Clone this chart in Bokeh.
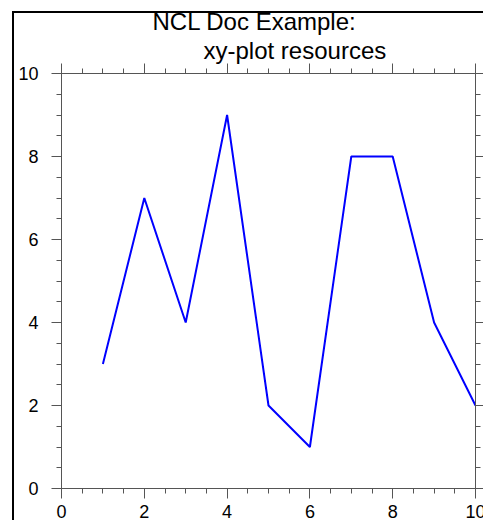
from bokeh.plotting import figure
from bokeh.models import (Range1d, LinearAxis, SingleIntervalTicker, Title,
                          CustomJSTickFormatter, InlineStyleSheet)
from bokeh.embed import file_html
from bokeh.resources import INLINE

# ---- data ----
x_vals = [1, 2, 3, 4, 5, 6, 7, 8, 9, 10]
y_vals = [3, 7, 4, 9, 2, 1, 8, 8, 4, 2]
title_line1 = "NCL Doc Example:"
title_line2 = "xy-plot resources"
x_limits = (0, 10)
y_limits = (0, 10)

FONT = "Liberation Sans"
AXC = "#555555"

p = figure(frame_width=414, frame_height=415,
           min_border_left=61, min_border_top=73,
           min_border_right=0, min_border_bottom=0,
           x_range=Range1d(*x_limits), y_range=Range1d(*y_limits),
           x_axis_location=None, y_axis_location=None,
           output_backend="svg", toolbar_location=None)
p.background_fill_color = "white"
p.border_fill_color = "white"
p.outline_line_color = None
p.xgrid.grid_line_color = None
p.ygrid.grid_line_color = None


def make_axis(show_labels, standoff):
    ax = LinearAxis(ticker=SingleIntervalTicker(interval=2, num_minor_ticks=4))
    ax.axis_line_color = AXC
    ax.axis_line_width = 1
    ax.major_tick_line_color = AXC
    ax.minor_tick_line_color = AXC
    ax.major_tick_out = 10
    ax.major_tick_in = 0
    ax.minor_tick_out = 5
    ax.minor_tick_in = 0
    ax.major_label_text_font = FONT
    ax.major_label_text_color = "black"
    ax.major_label_text_font_size = "18px"
    ax.major_label_standoff = standoff
    if not show_labels:
        ax.formatter = CustomJSTickFormatter(code="return ''")
    return ax


p.add_layout(make_axis(True, 13), "left")
p.add_layout(make_axis(True, 6), "below")
p.add_layout(make_axis(False, 0), "right")
p.add_layout(make_axis(False, 0), "above")

t2 = Title(text=title_line2, align="left", offset=142, standoff=0,
           text_font=FONT, text_font_size="24px", text_font_style="normal",
           text_color="black")
t1 = Title(text=title_line1, align="left", offset=91, standoff=0,
           text_font=FONT, text_font_size="24px", text_font_style="normal",
           text_color="black")
p.add_layout(t2, "above")
p.add_layout(t1, "above")

p.line(x_vals, y_vals, line_color="#0000ff", line_width=2)

# black page border (left and top) like the cropped original frame
p.stylesheets = [InlineStyleSheet(css="""
:host { position: relative; }
:host::after {
  content: '';
  position: absolute;
  left: 12px; top: 11px; right: 0; bottom: 0;
  border-left: 2px solid black;
  border-top: 2px solid black;
  pointer-events: none;
}
""")]

open("out.html", "w").write(file_html(p, INLINE))
